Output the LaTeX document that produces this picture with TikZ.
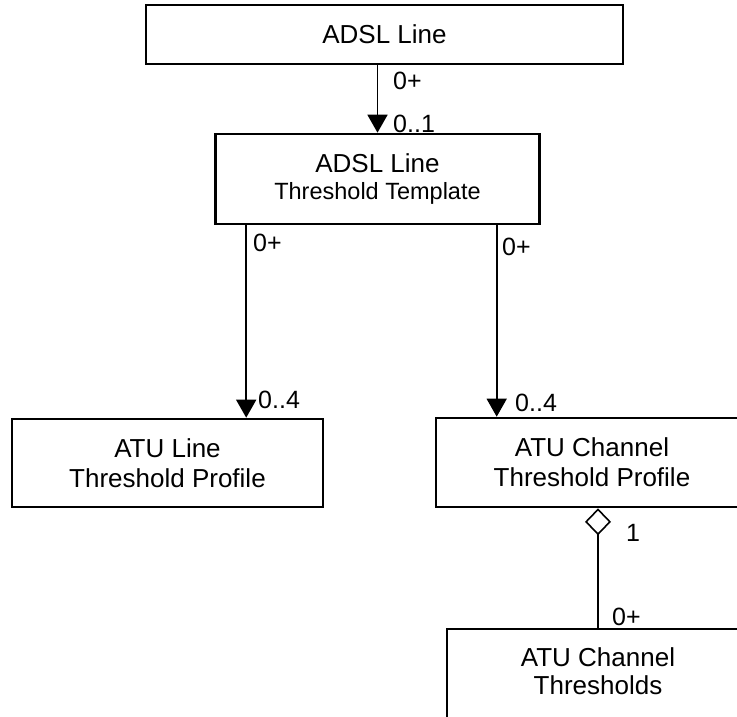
\documentclass[tikz,border=0pt]{standalone}
\usepackage{fontspec}
\setmainfont{Liberation Sans}
\usetikzlibrary{arrows.meta}
\begin{document}
\begin{tikzpicture}[x=1pt,y=-1pt,
  boxtext/.style={inner sep=0pt, align=center, font=\fontsize{26}{30}\selectfont},
  box/.style={boxtext, draw=black, line width=2.6pt, rectangle, fill=white},
  conn/.style={line width=1.6pt, draw=black},
  arr/.style={conn, -{Triangle[length=18pt,width=20pt]}},
  agg/.style={conn, {Diamond[open,length=27pt,width=26pt]}-},
  lbl/.style={inner sep=0pt, anchor=west, font=\fontsize{25}{30}\selectfont}]
\useasboundingbox (0,0) rectangle (737,717);
\clip (0,0) rectangle (737,717);
\node[box, minimum width=477pt, minimum height=59pt] (top) at (384.5,34.5) {ADSL Line};
\node[box, minimum width=324pt, minimum height=90pt] (tmpl) at (377.5,179)
  {ADSL Line\\[-3pt]{\fontsize{23.5}{26}\selectfont Threshold Template}};
\node[box, minimum width=311pt, minimum height=88pt] (atul) at (167.5,463) {ATU Line\\Threshold Profile};
\node[box, minimum width=312pt, minimum height=89pt] (atuc) at (592,462.5) {ATU Channel\\Threshold Profile};
\node[box, minimum width=302pt, minimum height=100pt] (thr) at (598,679) {};
\node[boxtext] (thrtext) at (598,671) {ATU Channel\\[-2pt]Thresholds};
\draw[arr] (top.south -| tmpl.north) -- (tmpl.north);
\draw[arr] ([xshift=32pt]tmpl.south west) -- ([xshift=32pt]tmpl.south west |- atul.north);
\draw[arr] ([xshift=62pt]atuc.north west |- tmpl.south) -- ([xshift=62pt]atuc.north west);
\draw[agg] (thr.north |- atuc.south) -- (thr.north);
\node[lbl] (m1) at (393,81) {0+};
\node[lbl] (m2) at (393,123.5) {0..1};
\node[lbl] (m3) at (253,243) {0+};
\node[lbl] (m4) at (502,247) {0+};
\node[lbl] (m5) at (258,400) {0..4};
\node[lbl] (m6) at (515,402.5) {0..4};
\node[lbl] (m7) at (626,532.5) {1};
\node[lbl] (m8) at (612,616.5) {0+};
\end{tikzpicture}
\end{document}
